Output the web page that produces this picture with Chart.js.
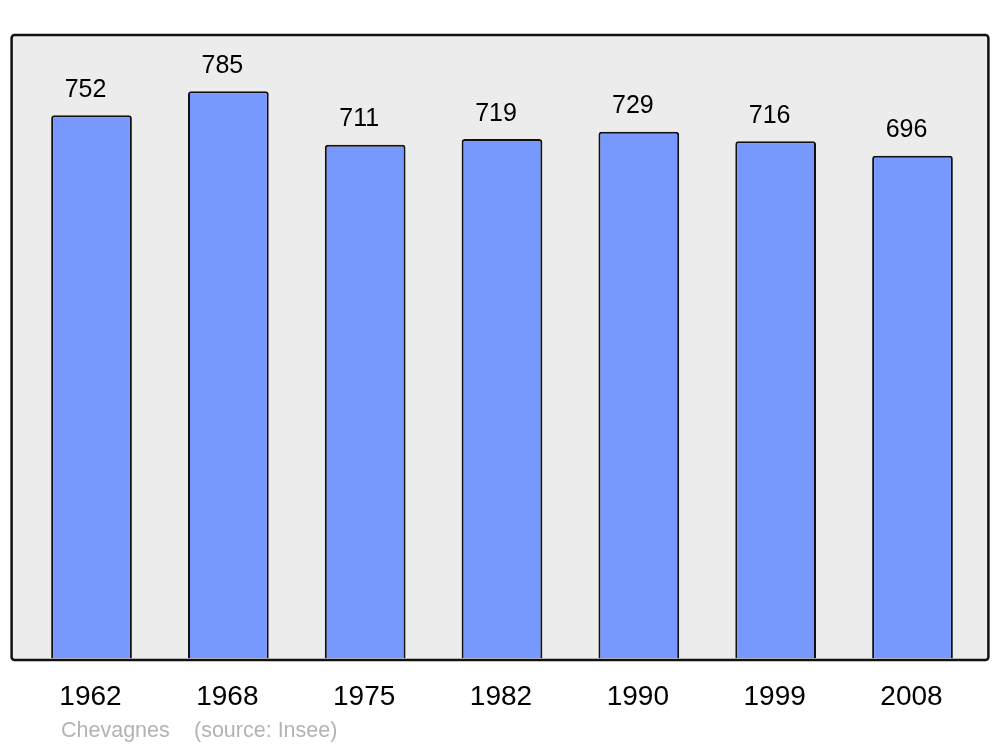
<!DOCTYPE html>
<html>
<head>
<meta charset="utf-8">
<script src="https://cdn.jsdelivr.net/npm/chart.js@4/dist/chart.umd.min.js"></script>
<style>
  html, body { margin: 0; padding: 0; background: #fff; }
  #wrap { width: 1000px; height: 747px; }
</style>
</head>
<body>
<div id="wrap"><canvas id="popChart" width="1000" height="747"></canvas></div>
<script>
// Data
const years = ["1962", "1968", "1975", "1982", "1990", "1999", "2008"];
const population = [752, 785, 711, 719, 729, 716, 696];
const townName = "Chevagnes";
const sourceText = "(source: Insee)";

// Frame + labels drawn around the bars
const framePlugin = {
    id: "frame",
    beforeDatasetsDraw(chart) {
        const a = chart.chartArea, c = chart.ctx;
        c.save();
        c.beginPath();
        c.roundRect(a.left - 11.5, a.top, a.right - a.left + 19, a.bottom - a.top + 1.5, 3);
        c.fillStyle = "#ececec";
        c.fill();
        c.restore();
    },
    afterDatasetsDraw(chart) {
        const a = chart.chartArea, c = chart.ctx;
        const x = chart.scales.x, y = chart.scales.y;
        c.save();
        c.beginPath();
        c.roundRect(a.left - 11.5, a.top, a.right - a.left + 19, a.bottom - a.top + 1.5, 3);
        c.lineWidth = 2.5;
        c.strokeStyle = "#111";
        c.stroke();

        // value labels
        c.fillStyle = "#000";
        c.textAlign = "center";
        c.textBaseline = "alphabetic";
        c.font = "25px 'Liberation Sans', Arial, sans-serif";
        population.forEach((v, i) => {
            c.fillText(String(v), x.getPixelForValue(i) - 6, y.getPixelForValue(v) - 18.5);
        });

        // year labels
        c.font = "28px 'Liberation Sans', Arial, sans-serif";
        years.forEach((yr, i) => {
            c.fillText(yr, x.getPixelForValue(i) - 1, a.bottom + 46.5);
        });

        // footer
        c.fillStyle = "#b3b3b3";
        c.textAlign = "left";
        c.font = "21.5px 'Liberation Sans', Arial, sans-serif";
        c.fillText(townName, 61, 737);
        c.fillText(sourceText, 194, 737);
        c.restore();
    }
};

const ctx = document.getElementById("popChart").getContext("2d");

const popChart = new Chart(ctx, {
    type: "bar",
    data: {
        labels: years,
        datasets: [{
            data: population,
            backgroundColor: "#7799ff",
            borderColor: "#111",
            borderWidth: 2,
            borderRadius: 3,
            borderSkipped: "bottom",
            categoryPercentage: 1,
            barPercentage: 0.59
        }]
    },
    options: {
        responsive: false,
        animation: false,
        layout: {
            padding: { left: 23.1, right: 19.1, top: 35, bottom: 88.5 }
        },
        plugins: {
            legend: { display: false },
            tooltip: { enabled: false }
        },
        scales: {
            x: { display: false },
            y: { display: false, min: 0, max: 863 }
        }
    },
    plugins: [framePlugin]
});
</script>
</body>
</html>
